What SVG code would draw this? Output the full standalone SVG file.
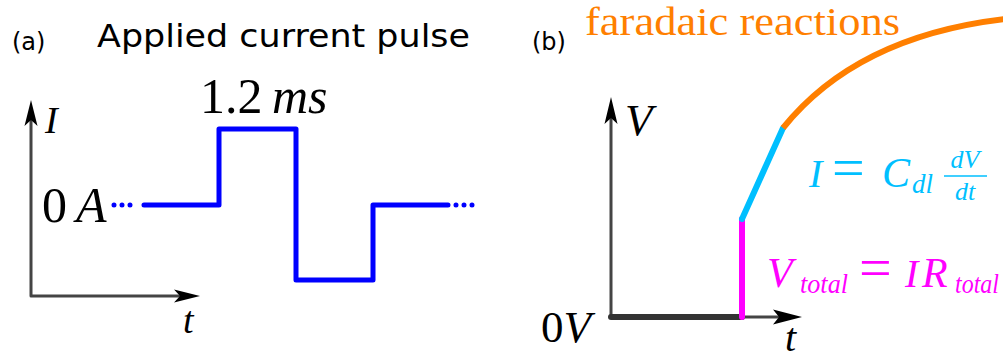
<svg xmlns="http://www.w3.org/2000/svg" width="1003" height="360" viewBox="0 0 1003 360">
<style>
.sans{font-family:"DejaVu Sans",sans-serif;fill:#000}
.math{font-family:"Liberation Serif","Times New Roman",serif;font-style:italic}
.rm{font-style:normal}
.axis{stroke:#444;stroke-width:3;fill:none;stroke-linecap:round;stroke-linejoin:round}
.head{fill:#000}
.blue{stroke:#0000ff;stroke-width:5;fill:none;stroke-linejoin:round;stroke-linecap:round}
.dots{stroke:#0000ff;stroke-width:5;fill:none;stroke-linecap:round;stroke-dasharray:0 8}
</style>
<rect width="1003" height="360" fill="#fff"/>
<g id="panel-a">
  <text class="sans" x="12" y="50" font-size="24">(a)</text>
  <text class="sans" x="97" y="47" font-size="32" textLength="373" lengthAdjust="spacingAndGlyphs">Applied current pulse</text>
  <g id="axes-a">
    <path class="axis" d="M31,118 V296 H180"/>
    <path class="head" d="M31,100 L37.5,126 L31,120 L24.5,126 Z"/>
    <path class="head" d="M200,296 L174,302.5 L180,296 L174,289.5 Z"/>
  </g>
  <text class="math" x="45" y="133" font-size="38">I</text>
  <text class="math" x="183" y="333" font-size="38">t</text>
  <text class="math" x="42" y="222" font-size="50"><tspan class="rm">0</tspan><tspan x="76">A</tspan></text>
  <text class="math" x="200" y="113" font-size="50"><tspan class="rm">1.2</tspan><tspan x="272">ms</tspan></text>
  <g id="pulse">
    <path class="dots" d="M114,205 H136"/>
    <path class="blue" d="M144,205 H219 V129 H296 V280 H373 V205 H448"/>
    <path class="dots" d="M456,205 H480"/>
  </g>
</g>
<g id="panel-b">
  <text class="sans" x="532" y="50" font-size="24">(b)</text>
  <text class="math rm" x="585" y="35" font-size="41" fill="#ff7f00" style="font-style:normal" textLength="315" lengthAdjust="spacingAndGlyphs">faradaic reactions</text>
  <g id="axes-b">
    <path class="axis" d="M611,115 V317 H780"/>
    <path class="head" d="M611,97 L617.5,124 L611,118 L604.5,124 Z"/>
    <path class="head" d="M802,317 L773,324.5 L779,317 L773,309.5 Z"/>
  </g>
  <text class="math" x="625" y="135" font-size="45">V</text>
  <text class="math" x="541" y="342" font-size="45"><tspan class="rm">0</tspan>V</text>
  <text class="math" x="785" y="351" font-size="40">t</text>
  <g id="response">
    <path d="M611,317 H742" stroke="#333" stroke-width="6" stroke-linecap="round"/>
    <path d="M742,317 V219" stroke="#ff00ff" stroke-width="6" stroke-linecap="round"/>
    <path d="M742,219 L783,128" stroke="#00bfff" stroke-width="6" stroke-linecap="round"/>
    <path d="M783,128 C820,82 885,33 1005,19" stroke="#ff7f00" stroke-width="6" fill="none"/>
  </g>
  <g id="eq-capacitive" fill="#00bfff">
    <text class="math" x="809" y="187" font-size="40">I<tspan class="rm" x="832" font-size="58">=</tspan><tspan x="882" font-size="42">C</tspan><tspan x="912" y="193" font-size="27">dl</tspan></text>
    <text class="math" x="965" y="168" font-size="26" text-anchor="middle">dV</text>
    <path d="M944,176 H987" stroke="#00bfff" stroke-width="1.6"/>
    <text class="math" x="965" y="200" font-size="26" text-anchor="middle">dt</text>
  </g>
  <g id="eq-ohmic" fill="#ff00ff">
    <text class="math" x="767" y="287" font-size="42">V<tspan x="800" y="293" font-size="27" textLength="48" lengthAdjust="spacingAndGlyphs">total</tspan><tspan class="rm" x="859" y="287" font-size="58">=</tspan><tspan x="905" y="287" font-size="40">I</tspan><tspan x="922" y="287" font-size="42">R</tspan><tspan x="955" y="293" font-size="27" textLength="44" lengthAdjust="spacingAndGlyphs">total</tspan></text>
  </g>
</g>
</svg>
